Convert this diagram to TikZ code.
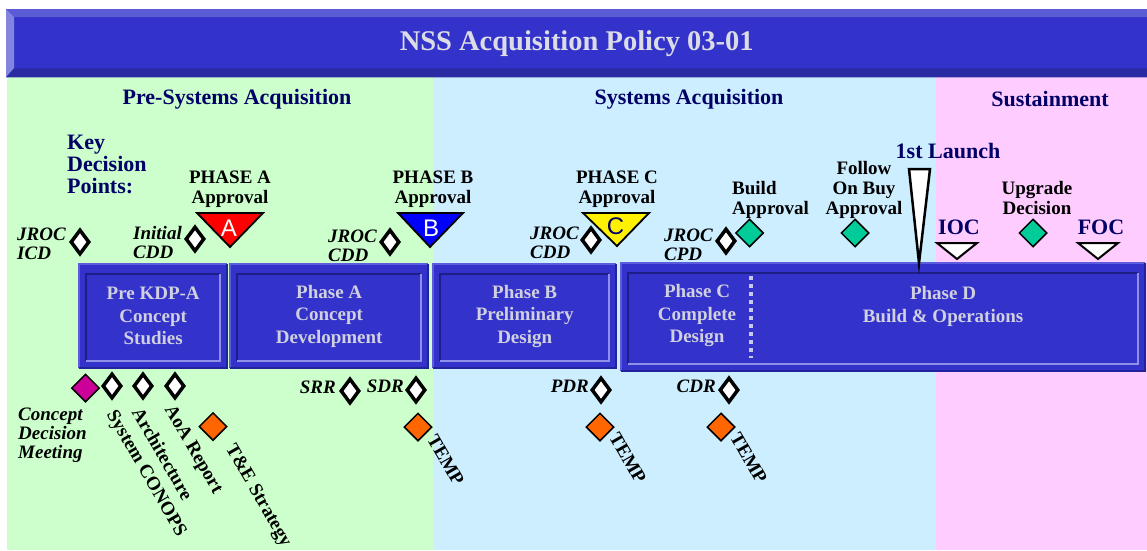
\documentclass[tikz,border=0pt]{standalone}
\usepackage{fontspec}
\setmainfont{Liberation Serif}
\newfontfamily\lettersf{Liberation Sans}
\usetikzlibrary{shapes.geometric}
\definecolor{boxblue}{HTML}{3333CC}
\definecolor{tblight}{HTML}{5B5BD6}
\definecolor{tbleft}{HTML}{8383E0}
\definecolor{tbdark}{HTML}{2A2AA3}
\definecolor{bggreen}{HTML}{CCFFCC}
\definecolor{bgblue}{HTML}{CCEEFF}
\definecolor{bgpink}{HTML}{FFCCFF}
\definecolor{navy}{HTML}{000066}
\definecolor{boxtext}{HTML}{D0D0E0}
\definecolor{titletext}{HTML}{DCDCE6}
\definecolor{dgreen}{HTML}{00CC99}
\definecolor{dorange}{HTML}{FF6600}
\definecolor{dmagenta}{HTML}{CC0099}
\definecolor{outlight}{HTML}{5C5CDD}
\definecolor{outdark}{HTML}{22229A}
\definecolor{indark}{HTML}{1E1E88}
\definecolor{inlight}{HTML}{9090E8}
\definecolor{dotcol}{HTML}{C8C8F0}
\tikzset{
  pbox/.style={rectangle, fill=boxblue, inner sep=0, text=boxtext,
    font=\fontsize{19}{22.5}\selectfont\bfseries, align=center},
  outerlight/.style={draw=outlight, line width=1.5},
  outerdark/.style={draw=outdark, line width=2},
  innerdark/.style={draw=indark, line width=2.5},
  innerlight/.style={draw=inlight, line width=2},
  lbl/.style={font=\fontsize{19}{20}\selectfont\bfseries, align=center, inner sep=0},
  ilbl/.style={font=\fontsize{19}{19}\selectfont\bfseries\itshape, align=left, inner sep=0},
  navytxt/.style={font=\fontsize{22}{22}\selectfont\bfseries, text=navy, inner sep=0, align=left},
  rot/.style={lbl, rotate=-60, anchor=west},
  wdia/.style={diamond, draw=black, line width=3.5, fill=white, minimum width=19, minimum height=25, inner sep=0},
  cdia/.style={diamond, draw=black, line width=1.5, minimum width=28, minimum height=28, inner sep=0},
  tri/.style={draw=black, line width=1.8, line join=miter},
  letter/.style={font=\fontsize{24}{24}\lettersf, inner sep=0},
}
\newcommand\phbox[6]{%
  \node[pbox, minimum width={#4-#2}, minimum height={#5-#3}, anchor=north west] (#1) at (#2,#3) {#6};
  \draw[outerlight] (#1.south west) |- (#1.north east);
  \draw[outerdark] (#1.north east) |- (#1.south west);
  \draw[innerdark] ([shift={(7,-7)}]#1.south west) |- ([shift={(-7,10)}]#1.north east);
  \draw[innerlight] ([shift={(-7,10)}]#1.north east) |- ([shift={(7,-7)}]#1.south west);
}
\begin{document}
\begin{tikzpicture}[x=1pt,y=-1pt]
\useasboundingbox (0,0) rectangle (1147,550);
% backgrounds
\fill[bggreen] (7,77) rectangle (433,550);
\fill[bgblue] (433,77) rectangle (936,550);
\fill[bgpink] (936,77) rectangle (1147,550);
% title bar
\node[rectangle, fill=boxblue, inner sep=0, minimum width=1141, minimum height=68, anchor=north west,
  text=titletext, font=\fontsize{28.5}{30}\selectfont\bfseries] (title) at (6,9) {NSS Acquisition Policy 03-01};
\fill[tblight] (title.north west) -- (title.north east) -- ([shift={(0,8)}]title.north east) -- ([shift={(8,8)}]title.north west) -- cycle;
\fill[tbleft] (title.north west) -- ([shift={(8,8)}]title.north west) -- ([shift={(8,-9)}]title.south west) -- (title.south west) -- cycle;
\fill[tbdark] (title.south west) -- ([shift={(8,-9)}]title.south west) -- ([shift={(0,-9)}]title.south east) -- (title.south east) -- cycle;
% section headings
\node[navytxt] (hpre) at (237,99) {Pre-Systems Acquisition};
\node[navytxt] (hsys) at (689,99) {Systems Acquisition};
\node[navytxt] (hsus) at (1050,99) {Sustainment};
\node[navytxt, anchor=west] (kdp) at (67,164) {Key\\Decision\\Points:};
% phase boxes
\phbox{pre}{79}{264}{227}{368}{Pre KDP-A\\Concept\\Studies}
\phbox{pa}{230}{264}{428}{368}{Phase A\\Concept\\Development}
\phbox{pb}{433}{264}{616}{368}{Phase B\\Preliminary\\Design}
\phbox{pcd}{621}{263}{1145}{371}{}
\node[pbox, fill=none] (pct) at (697,315.5) {Phase C\\Complete\\Design};
\node[pbox, fill=none] (pdt) at (943,306.5) {Phase D\\Build \& Operations};
\draw[dotcol, line width=3.5, dash pattern=on 4 off 4] ([shift={(130,13)}]pcd.north west) -- ([shift={(130,-13)}]pcd.south west);
% approvals
\node[lbl] (apa) at (230,189) {PHASE A\\Approval};
\node[lbl] (apb) at (433,189) {PHASE B\\Approval};
\node[lbl] (apc) at (617,189.5) {PHASE C\\Approval};
\filldraw[tri, fill=red] (197,213) -- (263,213) -- (230,247) -- cycle;
\node[letter, text=white] (la) at (229,228) {A};
\filldraw[tri, fill=blue] (398,213) -- (463,213) -- (430,247) -- cycle;
\node[letter, text=white] (lb) at (431,228) {B};
\filldraw[tri, fill=yellow] (583,213) -- (649,213) -- (617,246) -- cycle;
\node[letter, text=navy] (lc) at (615.5,226.5) {C};
% top white diamonds and labels
\node[wdia] (d1) at (80,242) {};
\node[ilbl, anchor=west] (t1) at (17,244) {JROC\\ICD};
\node[wdia] (d2) at (195,239) {};
\node[ilbl, anchor=west] (t2) at (133,242) {Initial\\CDD};
\node[wdia] (d3) at (390,242) {};
\node[ilbl, anchor=west] (t3) at (328,246) {JROC\\CDD};
\node[wdia] (d4) at (591,240) {};
\node[ilbl, anchor=west] (t4) at (530,242.5) {JROC\\CDD};
\node[wdia] (d5) at (726,241) {};
\node[ilbl, anchor=west] (t5) at (664,244.5) {JROC\\CPD};
% green decisions
\node[cdia, fill=dgreen] (g1) at (749.5,233) {};
\node[lbl, align=left, anchor=west] (tg1) at (732,199.5) {Build\\Approval};
\node[cdia, fill=dgreen] (g2) at (855,233) {};
\node[lbl] (tg2) at (864,190) {Follow\\On Buy\\Approval};
\node[cdia, fill=dgreen] (g3) at (1033,233) {};
\node[lbl] (tg3) at (1037,198) {Upgrade\\Decision};
% launch, IOC, FOC
\node[navytxt] (launch) at (948,150.5) {1st Launch};
\filldraw[tri, fill=white, line width=2.5] (909,169) -- (930,169) -- (919,263) -- cycle;
\node[navytxt] (ioc) at (959,227.5) {IOC};
\filldraw[tri, fill=white, line width=2] (937,243) -- (977,243) -- (957,259) -- cycle;
\node[navytxt] (foc) at (1101,227.5) {FOC};
\filldraw[tri, fill=white, line width=2] (1078,243) -- (1118,243) -- (1098,259) -- cycle;
% bottom markers
\node[cdia, fill=dmagenta] (m1) at (85.5,388) {};
\node[ilbl, anchor=west] (tm1) at (18,435.5) {Concept\\Decision\\Meeting};
\node[wdia] (b1) at (112,386) {};
\node[wdia] (b2) at (143,386) {};
\node[wdia] (b3) at (175,386) {};
\node[rot] (tb1) at (110,412) {System CONOPS};
\node[rot] (tb2) at (137,409) {Architecture};
\node[rot] (tb3) at (168,407) {AoA Report};
\node[cdia, fill=dorange] (o1) at (213,426.5) {};
\node[rot] (to1) at (229,446) {T\&E Strategy};
\node[wdia] (srr) at (350,391) {};
\node[ilbl, anchor=east] (tsrr) at (336,387) {SRR};
\node[wdia] (sdr) at (416,390) {};
\node[ilbl, anchor=east] (tsdr) at (404,386) {SDR};
\node[cdia, fill=dorange] (o2) at (418,427) {};
\node[rot] (to2) at (432,436) {TEMP};
\node[wdia] (pdr) at (601,390) {};
\node[ilbl, anchor=east] (tpdr) at (589,386) {PDR};
\node[cdia, fill=dorange] (o3) at (600,427) {};
\node[rot] (to3) at (614,434) {TEMP};
\node[wdia] (cdr) at (729,390) {};
\node[ilbl, anchor=east] (tcdr) at (716,386) {CDR};
\node[cdia, fill=dorange] (o4) at (721,427) {};
\node[rot] (to4) at (735,434) {TEMP};
\end{tikzpicture}
\end{document}
